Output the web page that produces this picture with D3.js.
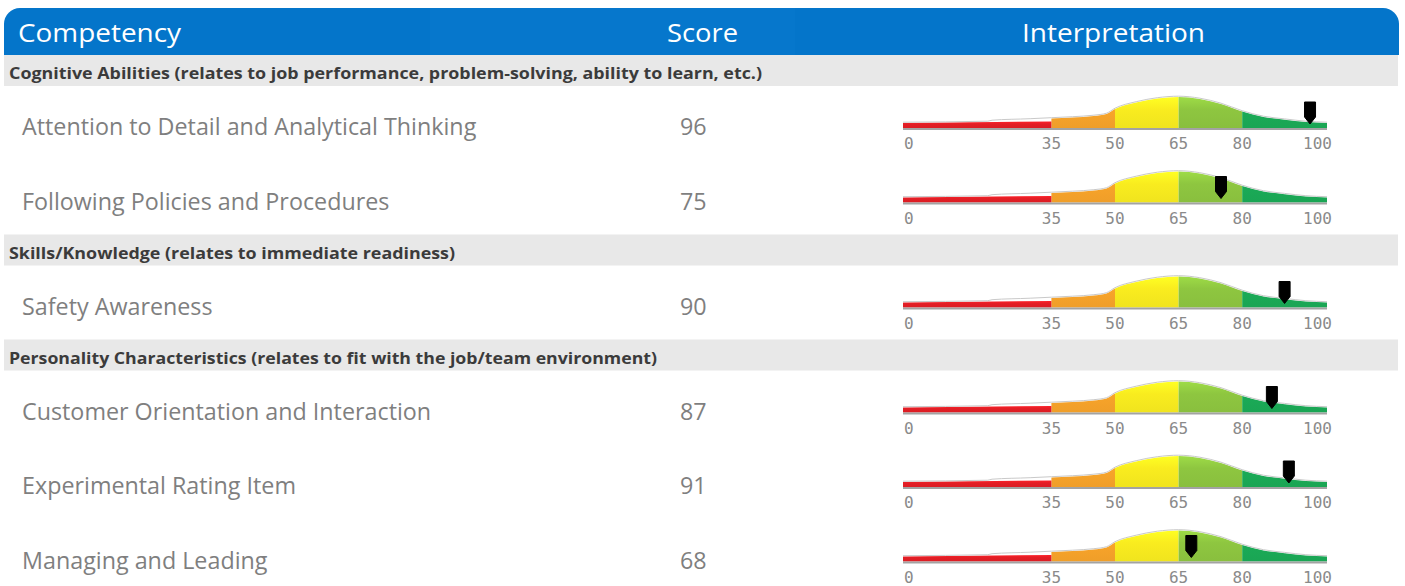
<!DOCTYPE html>
<html>
<head>
<meta charset="utf-8">
<script src="https://cdn.jsdelivr.net/npm/d3@7"></script>
<style>
  body { margin: 0; background: #fff; }
  svg { display: block; }
</style>
</head>
<body>
<script>
// header columns
const headers = ['Competency', 'Score', 'Interpretation'];

// groups and their competencies
const groups = [
  'Cognitive Abilities (relates to job performance, problem-solving, ability to learn, etc.)',
  'Skills/Knowledge (relates to immediate readiness)',
  'Personality Characteristics (relates to fit with the job/team environment)'
];
const competencies = [
  'Attention to Detail and Analytical Thinking',
  'Following Policies and Procedures',
  'Safety Awareness',
  'Customer Orientation and Interaction',
  'Experimental Rating Item',
  'Managing and Leading'
];
const competencyGroup = [0, 0, 1, 2, 2, 2];
const scores = [96, 75, 90, 87, 91, 68];

// gauge
const gaugeTicks = [0, 35, 50, 65, 80, 100];
const bandNames = ['red', 'orange', 'yellow', 'lightgreen', 'green'];
const bandColors = ['#e31e25', '#f8a42a', '#f9ec1f', '#8ec640', '#1bab57'];
// bell curve: [score, height in px]
const curveScore = [0, 20, 21, 30, 35, 40, 45, 48, 50, 55, 60, 65, 70, 75, 80, 85, 90, 95, 100];
const curveHeight = [5, 6, 7, 8.5, 9.5, 10.5, 12, 14, 19, 25.5, 29.5, 31, 29, 24, 16.5, 11, 8.3, 6, 5];
// the red zone is only a thin bar under the curve
const redBarScore = [0, 35];
const redBarHeight = [5, 6.5];

const W = 1405, H = 586;
const svg = d3.select('body').append('svg')
  .attr('width', W)
  .attr('height', H);

const defs = svg.append('defs');

const x = d3.scaleLinear().domain([0, 100]).range([903, 1327]);

// vertical gradients for the coloured bands
bandColors.forEach((c, i) => {
  const g = defs.append('linearGradient')
    .attr('id', 'grad-' + bandNames[i])
    .attr('x1', 0).attr('y1', 0).attr('x2', 0).attr('y2', 1);
  g.append('stop').attr('offset', '0%').attr('stop-color', d3.color(c).brighter(0.3));
  g.append('stop').attr('offset', '40%').attr('stop-color', c);
  g.append('stop').attr('offset', '100%').attr('stop-color', d3.color(c).darker(0.1));
});

// ---- header bar ----
const hTop = 8, hBot = 55, hLeft = 4, hRight = 1399, r = 16;
const hp = d3.path();
hp.moveTo(hLeft, hBot);
hp.lineTo(hLeft, hTop + r);
hp.arcTo(hLeft, hTop, hLeft + r, hTop, r);
hp.lineTo(hRight - r, hTop);
hp.arcTo(hRight, hTop, hRight, hTop + r, r);
hp.lineTo(hRight, hBot);
hp.closePath();
svg.append('path').attr('d', hp.toString()).attr('fill', '#0475ca');

// barely lighter middle cell
svg.append('rect')
  .attr('x', 430).attr('y', hTop).attr('width', 365).attr('height', hBot - hTop)
  .attr('fill', '#0677cc');

const headerX = [18, 667, 1022];
const headerW = [163, 71, 183];
svg.selectAll('text.header')
  .data(headers)
  .join('text')
  .attr('class', 'header')
  .attr('x', (d, i) => headerX[i])
  .attr('y', 42)
  .attr('textLength', (d, i) => headerW[i])
  .attr('lengthAdjust', 'spacingAndGlyphs')
  .style('font-family', '"Open Sans", sans-serif')
  .style('font-size', '25px')
  .style('fill', '#fff')
  .text(d => d);

// ---- layout of rows ----
const rows = [];
let y = 55;
let lastGroup = -1;
competencies.forEach((name, i) => {
  if (competencyGroup[i] !== lastGroup) {
    if (lastGroup !== -1) y += 32;
    rows.push({ type: 'group', text: groups[competencyGroup[i]], y: y });
    y += 31;
    y += 42;
    lastGroup = competencyGroup[i];
  } else {
    y += 74.5;
  }
  rows.push({ type: 'item', text: name, score: scores[i], y: y });
});

// group bands
const groupRows = rows.filter(d => d.type === 'group');
const groupW = [753, 446, 648];
svg.selectAll('rect.band')
  .data(groupRows)
  .join('rect')
  .attr('class', 'band')
  .attr('x', hLeft)
  .attr('y', d => d.y)
  .attr('width', hRight - hLeft - 1)
  .attr('height', 31)
  .attr('fill', '#e8e8e8');

svg.selectAll('text.group')
  .data(groupRows)
  .join('text')
  .attr('class', 'group')
  .attr('x', 9)
  .attr('y', d => d.y + 24)
  .attr('textLength', (d, i) => groupW[i])
  .attr('lengthAdjust', 'spacingAndGlyphs')
  .style('font-family', '"Open Sans", sans-serif')
  .style('font-size', '16px')
  .style('font-weight', 'bold')
  .style('fill', '#3b3b3b')
  .text(d => d.text);

// competency rows
const itemRows = rows.filter(d => d.type === 'item');
svg.selectAll('text.item')
  .data(itemRows)
  .join('text')
  .attr('class', 'item')
  .attr('x', 22)
  .attr('y', d => d.y + 7)
  .style('font-family', '"Open Sans", sans-serif')
  .style('font-size', '23.3px')
  .style('fill', '#7f7f7f')
  .text(d => d.text);

svg.selectAll('text.score')
  .data(itemRows)
  .join('text')
  .attr('class', 'score')
  .attr('x', 680)
  .attr('y', d => d.y + 7)
  .style('font-family', '"Open Sans", sans-serif')
  .style('font-size', '23.3px')
  .style('fill', '#7f7f7f')
  .text(d => d.score);

// ---- gauges ----
const curve = curveScore.map((s, i) => [s, curveHeight[i]]);
const redBar = redBarScore.map((s, i) => [s, redBarHeight[i]]);

// clip rects, one per coloured band
const bandEdges = gaugeTicks;
bandNames.forEach((n, i) => {
  defs.append('clipPath').attr('id', 'clip-' + n)
    .append('rect')
    .attr('x', x(bandEdges[i]))
    .attr('y', 0)
    .attr('width', x(bandEdges[i + 1]) - x(bandEdges[i]))
    .attr('height', H);
});

itemRows.forEach(row => {
  const base = row.y;
  const g = svg.append('g');

  const area = d3.area()
    .x(d => x(d[0]))
    .y0(base)
    .y1(d => base - d[1])
    .curve(d3.curveMonotoneX);
  const line = d3.line()
    .x(d => x(d[0]))
    .y(d => base - d[1] - 0.8)
    .curve(d3.curveMonotoneX);

  // coloured bands (except red)
  bandNames.forEach((n, i) => {
    if (i === 0) return;
    g.append('path')
      .attr('d', area(curve))
      .attr('clip-path', 'url(#clip-' + n + ')')
      .attr('fill', 'url(#grad-' + n + ')');
  });

  // red bar
  g.append('path')
    .attr('d', d3.area().x(d => x(d[0])).y0(base).y1(d => base - d[1])(redBar))
    .attr('fill', 'url(#grad-red)');

  // curve outline
  g.append('path')
    .attr('d', line(curve))
    .attr('fill', 'none')
    .attr('stroke', '#c9c9c9')
    .attr('stroke-width', 1);

  // axis line
  g.append('rect')
    .attr('x', x(0))
    .attr('y', base)
    .attr('width', x(100) - x(0))
    .attr('height', 2)
    .attr('fill', '#a3a3a3');

  // tick labels
  g.selectAll('text.tick')
    .data(gaugeTicks)
    .join('text')
    .attr('class', 'tick')
    .attr('x', d => d === 0 ? x(d) + 1 : d === 100 ? x(d) + 5 : x(d))
    .attr('y', base + 21)
    .attr('text-anchor', d => d === 0 ? 'start' : d === 100 ? 'end' : 'middle')
    .style('font-family', '"DejaVu Sans Mono", monospace')
    .style('font-size', '16px')
    .style('fill', '#8a8a8a')
    .text(d => d);

  // score marker
  const mx = x(row.score);
  const mw = 5.5;
  const mp = d3.path();
  mp.moveTo(mx - mw, base - 26);
  mp.lineTo(mx + mw, base - 26);
  mp.lineTo(mx + mw, base - 11);
  mp.lineTo(mx, base - 4);
  mp.lineTo(mx - mw, base - 11);
  mp.closePath();
  g.append('path')
    .attr('d', mp.toString())
    .attr('fill', '#000')
    .attr('stroke', '#000')
    .attr('stroke-width', 1)
    .attr('stroke-linejoin', 'round');
});
</script>
</body>
</html>
